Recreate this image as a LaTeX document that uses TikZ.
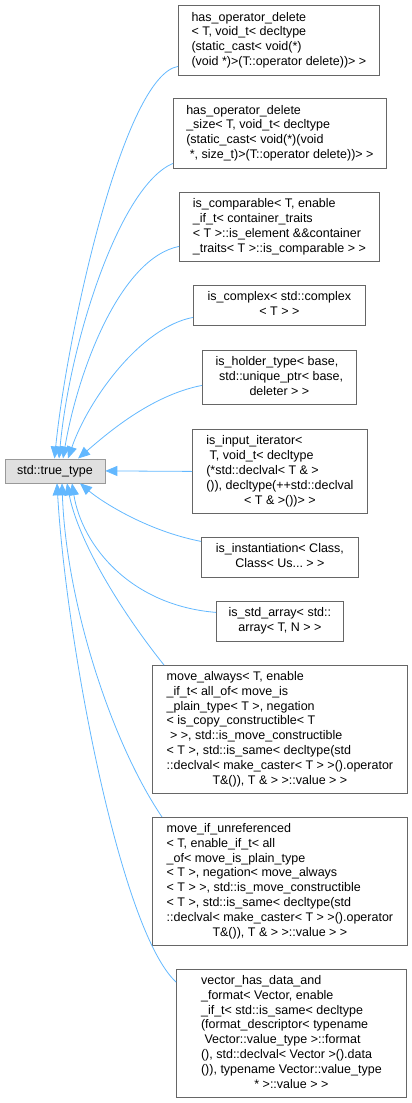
\documentclass[tikz,border=0pt]{standalone}
\usepackage{fontspec}
\setmainfont{Liberation Sans}
\usetikzlibrary{arrows.meta}
\definecolor{bordgris}{HTML}{666666}
\definecolor{bordracine}{HTML}{999999}
\definecolor{fondracine}{HTML}{E0E0E0}
\definecolor{fleche}{HTML}{63B8FF}
% lignes à gauche, dernière ligne centrée
\newcommand{\classe}[1]{\begin{tabular}{@{}l@{}}#1\end{tabular}}
\newcommand{\derniere}[1]{\multicolumn{1}{@{}c@{}}{#1}}
\begin{document}
\begin{tikzpicture}[x=1pt,y=-1pt]
	% Styles des classes et des flèches d'héritage
	\tikzset{
		classe/.style={draw=bordgris, fill=white, line width=0.8pt, anchor=north west,
			inner sep=0pt, font=\fontsize{12.5}{14.9}\selectfont},
		racine/.style={classe, draw=bordracine, fill=fondracine},
		herit/.style={draw=fleche, line width=0.8pt, {Triangle[length=12pt,width=10pt]}-}
	}
	\useasboundingbox (0,0) rectangle (412,1103);
	\node[racine, minimum width=100pt, minimum height=24pt] (tt) at (4.5,458.5) {std::true\_type};
	\node[classe, minimum width=201pt, minimum height=70pt] (hod) at (178,5) {\classe{
		has\_operator\_delete\\
		< T, void\_t< decltype\\
		(static\_cast< void(*)\\
		\derniere{(void *)>(T::operator delete))> >}}};
	\node[classe, minimum width=213pt, minimum height=70pt] (hods) at (173,98) {\classe{
		has\_operator\_delete\\
		\_size< T, void\_t< decltype\\
		(static\_cast< void(*)(void\\
		\derniere{\ *, size\_t)>(T::operator delete))> >}}};
	\node[classe, minimum width=200pt, minimum height=69pt] (iscomp) at (179,192) {\classe{
		is\_comparable< T, enable\\
		\_if\_t< container\_traits\\
		< T >::is\_element \&\&container\\
		\derniere{\_traits< T >::is\_comparable > >}}};
	\node[classe, minimum width=172pt, minimum height=40pt] (iscplx) at (193,285) {\classe{
		is\_complex< std::complex\\
		\derniere{< T > >}}};
	\node[classe, minimum width=154pt, minimum height=54pt] (isholder) at (202,350) {\classe{
		is\_holder\_type< base,\\
		\ std::unique\_ptr< base,\\
		\derniere{deleter > >}}};
	\node[classe, minimum width=175pt, minimum height=84pt] (isinput) at (192,429) {\classe{
		is\_input\_iterator<\\
		\ T, void\_t< decltype\\
		(*std::declval< T \& >\\
		()), decltype(++std::declval\\
		\derniere{< T \& >())> >}}};
	\node[classe, minimum width=157pt, minimum height=40pt] (isinst) at (201,537) {\classe{
		is\_instantiation< Class,\\
		\derniere{Class< Us...\ > >}}};
	\node[classe, minimum width=127pt, minimum height=40pt] (isarr) at (216,601) {\classe{
		is\_std\_array< std::\\
		\derniere{array< T, N > >}}};
	\node[classe, minimum width=255pt, minimum height=128pt] (mvalw) at (152,665) {\classe{
		move\_always< T, enable\\
		\_if\_t< all\_of< move\_is\\
		\_plain\_type< T >, negation\\
		< is\_copy\_constructible< T\\
		\ > >, std::is\_move\_constructible\\
		< T >, std::is\_same< decltype(std\\
		::declval< make\_caster< T > >().operator\\
		\derniere{T\&()), T \& > >::value > >}}};
	\node[classe, minimum width=255pt, minimum height=128pt] (mvunref) at (152,817) {\classe{
		move\_if\_unreferenced\\
		< T, enable\_if\_t< all\\
		\_of< move\_is\_plain\_type\\
		< T >, negation< move\_always\\
		< T > >, std::is\_move\_constructible\\
		< T >, std::is\_same< decltype(std\\
		::declval< make\_caster< T > >().operator\\
		\derniere{T\&()), T \& > >::value > >}}};
	\node[classe, minimum width=230pt, minimum height=128pt] (vechas) at (176,969) {\classe{
		vector\_has\_data\_and\\
		\_format< Vector, enable\\
		\_if\_t< std::is\_same< decltype\\
		(format\_descriptor< typename\\
		\ Vector::value\_type >::format\\
		(), std::declval< Vector >().data\\
		()), typename Vector::value\_type\\
		\derniere{* >::value > >}}};
	% Flèches vers la classe de base
	\draw[herit] ([xshift=50pt]tt.north west) .. controls +(13,-128) and +(-54,9) .. ([yshift=-26pt]hod.west);
	\draw[herit] ([xshift=54.5pt]tt.north west) .. controls +(11,-118) and +(-53,22) .. ([yshift=-30pt]hods.west);
	\draw[herit] ([xshift=58.5pt]tt.north west) .. controls +(15,-88) and +(-59,12) .. ([yshift=-19.5pt]iscomp.west);
	\draw[herit] ([xshift=63.5pt]tt.north west) .. controls +(20,-58) and +(-53,10) .. ([yshift=-12pt]iscplx.west);
	\draw[herit] ([xshift=73.5pt]tt.north west) .. controls +(27,-23) and +(-52,10) .. ([yshift=-8pt]isholder.west);
	\draw[herit] (tt.east) -- (isinput.west);
	\draw[herit] ([xshift=75.5pt]tt.south west) .. controls +(20,17) and +(-56,-11) .. ([yshift=16pt]isinst.west);
	\draw[herit] ([xshift=67.5pt]tt.south west) .. controls +(10,62) and +(-86,-7) .. ([yshift=9pt]isarr.west);
	\draw[herit] ([xshift=62.5pt]tt.south west) .. controls +(11,57) and +(-44,-55) .. ([xshift=12pt]mvalw.north west);
	\draw[herit] ([xshift=57.5pt]tt.south west) .. controls +(4,117) and +(-52,-77) .. ([xshift=10pt]mvunref.north west);
	\draw[herit] ([xshift=52.5pt]tt.south west) .. controls +(9,157) and +(-56,-52) .. ([yshift=-13pt]vechas.north west);
\end{tikzpicture}
\end{document}
